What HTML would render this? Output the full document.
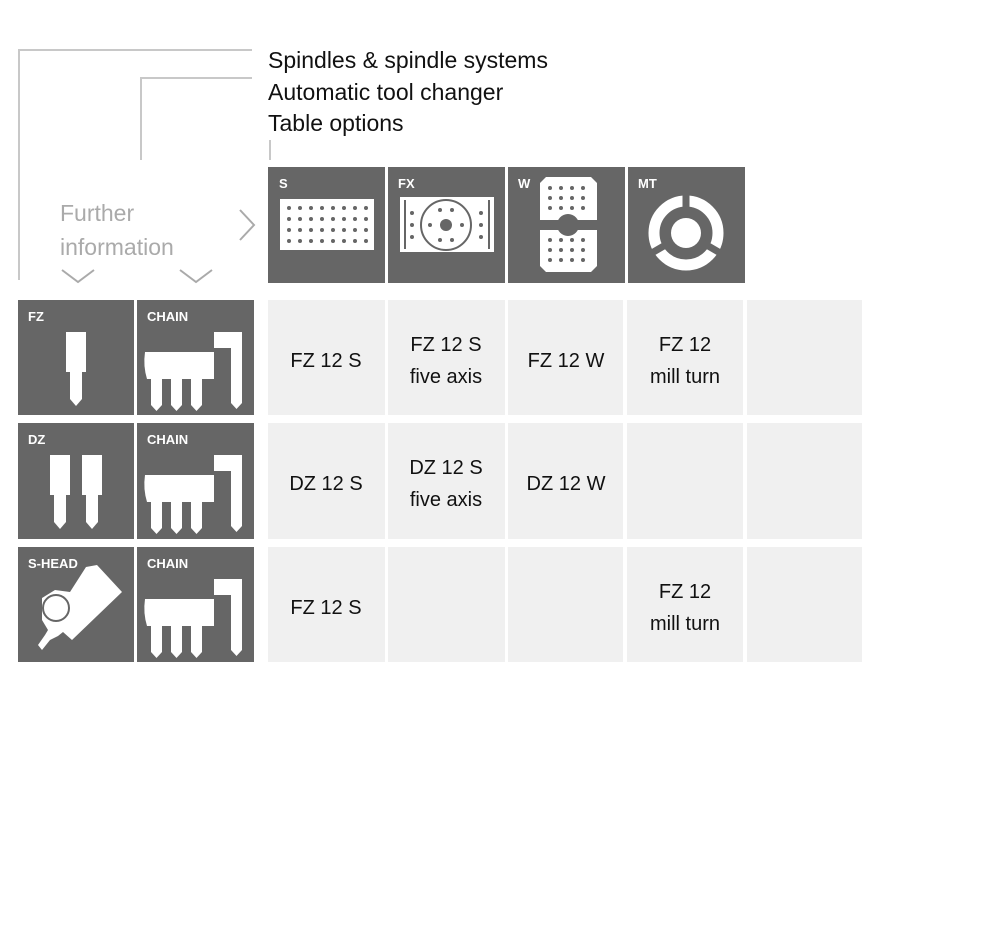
<!DOCTYPE html>
<html><head><meta charset="utf-8"><style>
html,body{margin:0;padding:0;background:#fff;}
svg{display:block;font-family:"Liberation Sans",sans-serif;}
</style></head><body>
<svg width="1000" height="930" viewBox="0 0 1000 930" xmlns="http://www.w3.org/2000/svg">
<defs>
<g id="chain">
 <path d="M8 56 H77 V83 H10 Q6 70 8 56 Z" fill="#fff"/>
 <path d="M14 83 h11 v26 l-5.5 6 l-5.5 -6 Z M34 83 h11 v26 l-5.5 6 l-5.5 -6 Z M54 83 h11 v26 l-5.5 6 l-5.5 -6 Z" fill="#fff"/>
 <path d="M77 36 H105 V107 l-5.5 6 l-5.5 -6 V52 H77 Z" fill="#fff"/>
</g>
<g id="fz">
 <rect x="0" y="0" width="20" height="40" fill="#fff"/>
 <path d="M4 40 h12 v27 l-6 7 l-6 -7 Z" fill="#fff"/>
</g>
</defs>
<g stroke="#c8c8c8" stroke-width="2" fill="none">
 <path d="M19 280 V50 H252"/>
 <path d="M141 160 V78 H252"/>
 <path d="M270 140 V160"/>
 <path d="M240 210 l14 15 l-14 15" stroke="#aaa"/>
 <path d="M62 270 l16 12 l16 -12 M180 270 l16 12 l16 -12" stroke="#aaa"/>
</g>
<g font-size="23" fill="#111">
 <text x="268" y="68">Spindles &amp; spindle systems</text>
 <text x="268" y="100">Automatic tool changer</text>
 <text x="268" y="131">Table options</text>
</g>
<text x="60" y="221" font-size="23" fill="#aaa">Further</text>
<text x="60" y="255" font-size="23" fill="#aaa">information</text>
<!-- header tiles -->
<g fill="#666">
 <rect x="268" y="167" width="117" height="116"/>
 <rect x="388" y="167" width="117" height="116"/>
 <rect x="508" y="167" width="117" height="116"/>
 <rect x="628" y="167" width="117" height="116"/>
</g>
<g font-size="13" font-weight="bold" fill="#fff">
 <text x="279" y="188">S</text><text x="398" y="188">FX</text><text x="518" y="188">W</text><text x="638" y="188">MT</text>
</g>
<rect x="280" y="199" width="94" height="51" fill="#fff"/>
<g fill="#666">
 <g id="row"><circle cx="289" cy="208" r="2"/><circle cx="300" cy="208" r="2"/><circle cx="311" cy="208" r="2"/><circle cx="322" cy="208" r="2"/><circle cx="333" cy="208" r="2"/><circle cx="344" cy="208" r="2"/><circle cx="355" cy="208" r="2"/><circle cx="366" cy="208" r="2"/></g>
 <use href="#row" y="11"/><use href="#row" y="22"/><use href="#row" y="33"/>
</g>
<rect x="400" y="197" width="94" height="55" fill="#fff"/>
<g stroke="#666" stroke-width="2" fill="none">
 <path d="M405 200 V249 M489 200 V249"/>
 <circle cx="446" cy="225" r="25"/>
</g>
<g fill="#666">
 <circle cx="446" cy="225" r="6"/>
 <circle cx="440" cy="210" r="2"/><circle cx="452" cy="210" r="2"/><circle cx="440" cy="240" r="2"/><circle cx="452" cy="240" r="2"/>
 <circle cx="430" cy="225" r="2"/><circle cx="462" cy="225" r="2"/>
 <circle cx="412" cy="213" r="2"/><circle cx="412" cy="225" r="2"/><circle cx="412" cy="237" r="2"/>
 <circle cx="481" cy="213" r="2"/><circle cx="481" cy="225" r="2"/><circle cx="481" cy="237" r="2"/>
</g>
<path d="M546 177 H591 L597 183 V220 H540 V183 Z" fill="#fff"/>
<path d="M540 230 H597 V266 L591 272 H546 L540 266 Z" fill="#fff"/>
<circle cx="568" cy="225" r="11" fill="#666"/>
<g fill="#666">
 <g id="wr"><circle cx="550" cy="188" r="2"/><circle cx="561" cy="188" r="2"/><circle cx="572" cy="188" r="2"/><circle cx="583" cy="188" r="2"/></g>
 <use href="#wr" y="10"/><use href="#wr" y="20"/><use href="#wr" y="52"/><use href="#wr" y="62"/><use href="#wr" y="72"/>
</g>
<circle cx="686" cy="233" r="32" fill="none" stroke="#fff" stroke-width="11"/>
<g stroke="#666" stroke-width="7">
 <path d="M686 233 L686 192 M686 233 L722 254 M686 233 L650 254"/>
</g>
<circle cx="686" cy="233" r="15" fill="#fff"/>
<!-- rows -->
<g fill="#666">
 <rect x="18" y="300" width="116" height="115"/><rect x="137" y="300" width="117" height="115"/>
 <rect x="18" y="423" width="116" height="116"/><rect x="137" y="423" width="117" height="116"/>
 <rect x="18" y="547" width="116" height="115"/><rect x="137" y="547" width="117" height="115"/>
</g>
<g font-size="13" font-weight="bold" fill="#fff">
 <text x="28" y="321">FZ</text><text x="147" y="321">CHAIN</text>
 <text x="28" y="444">DZ</text><text x="147" y="444">CHAIN</text>
 <text x="28" y="568">S-HEAD</text><text x="147" y="568">CHAIN</text>
</g>
<use href="#fz" x="66" y="332"/>
<use href="#fz" x="50" y="455"/><use href="#fz" x="82" y="455"/>
<use href="#chain" x="137" y="296"/>
<use href="#chain" x="137" y="419"/>
<use href="#chain" x="137" y="543"/>
<path d="M86 567 L97 565 L122 592 L72 640 L63 632 L58 636 L50 640 L42 650 L38 645 L45 635 L48 630 L42 620 L42 598 L55 590 L70 592 Z" fill="#fff"/>
<circle cx="56" cy="608" r="13" fill="none" stroke="#666" stroke-width="2"/>
<g fill="#f0f0f0">
 <rect x="268" y="300" width="117" height="115"/><rect x="388" y="300" width="117" height="115"/><rect x="508" y="300" width="115" height="115"/><rect x="627" y="300" width="116" height="115"/><rect x="747" y="300" width="115" height="115"/>
 <rect x="268" y="423" width="117" height="116"/><rect x="388" y="423" width="117" height="116"/><rect x="508" y="423" width="115" height="116"/><rect x="627" y="423" width="116" height="116"/><rect x="747" y="423" width="115" height="116"/>
 <rect x="268" y="547" width="117" height="115"/><rect x="388" y="547" width="117" height="115"/><rect x="508" y="547" width="115" height="115"/><rect x="627" y="547" width="116" height="115"/><rect x="747" y="547" width="115" height="115"/>
</g>
<g font-size="20" fill="#111" text-anchor="middle">
 <text x="326" y="367">FZ 12 S</text>
 <text x="446" y="351">FZ 12 S</text><text x="446" y="383">five axis</text>
 <text x="566" y="367">FZ 12 W</text>
 <text x="685" y="351">FZ 12</text><text x="685" y="383">mill turn</text>
 <text x="326" y="490">DZ 12 S</text>
 <text x="446" y="474">DZ 12 S</text><text x="446" y="506">five axis</text>
 <text x="566" y="490">DZ 12 W</text>
 <text x="326" y="614">FZ 12 S</text>
 <text x="685" y="598">FZ 12</text><text x="685" y="630">mill turn</text>
</g>
</svg>
</body></html>
